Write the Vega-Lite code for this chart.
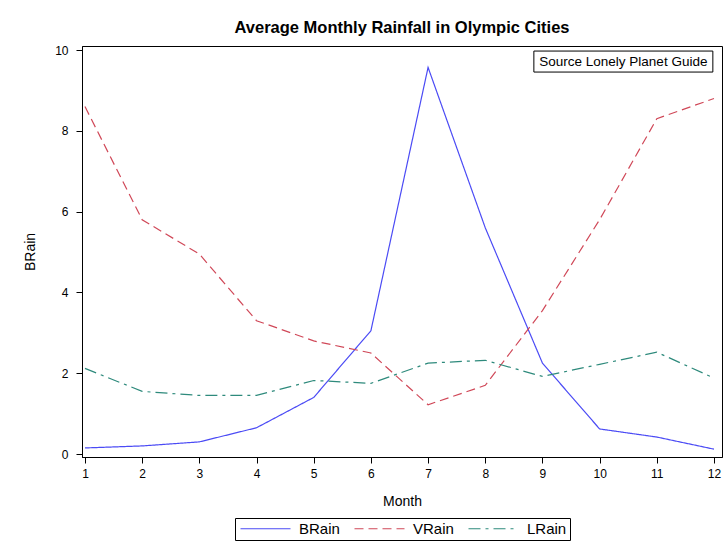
{
  "$schema": "https://vega.github.io/schema/vega-lite/v6.json",
  "width": 640,
  "height": 411,
  "autosize": {"type": "none"},
  "padding": {"left": 82, "top": 46, "right": 4, "bottom": 91},
  "background": "white",
  "title": {
    "text": "Average Monthly Rainfall in Olympic Cities",
    "font": "Liberation Sans",
    "fontSize": 16.5,
    "fontWeight": "bold",
    "color": "black",
    "anchor": "middle",
    "offset": 8
  },
  "config": {
    "view": {"stroke": "black", "strokeWidth": 1},
    "font": "Liberation Sans",
    "axis": {
      "grid": false,
      "domainColor": "black",
      "tickColor": "black",
      "tickSize": 6,
      "labelFont": "Liberation Sans",
      "labelFontSize": 12,
      "labelColor": "black",
      "titleFont": "Liberation Sans",
      "titleFontSize": 14,
      "titleFontWeight": "normal",
      "titleColor": "black"
    },
    "legend": {
      "labelFont": "Liberation Sans",
      "labelFontSize": 15,
      "labelColor": "black"
    }
  },
  "datasets": {
    "rain": [
      {"Month": 1, "series": "BRain", "value": 0.15},
      {"Month": 2, "series": "BRain", "value": 0.2},
      {"Month": 3, "series": "BRain", "value": 0.3},
      {"Month": 4, "series": "BRain", "value": 0.65},
      {"Month": 5, "series": "BRain", "value": 1.4},
      {"Month": 6, "series": "BRain", "value": 3.05},
      {"Month": 7, "series": "BRain", "value": 9.57},
      {"Month": 8, "series": "BRain", "value": 5.6},
      {"Month": 9, "series": "BRain", "value": 2.25},
      {"Month": 10, "series": "BRain", "value": 0.62},
      {"Month": 11, "series": "BRain", "value": 0.42},
      {"Month": 12, "series": "BRain", "value": 0.12},
      {"Month": 1, "series": "VRain", "value": 8.6},
      {"Month": 2, "series": "VRain", "value": 5.8},
      {"Month": 3, "series": "VRain", "value": 4.95},
      {"Month": 4, "series": "VRain", "value": 3.3},
      {"Month": 5, "series": "VRain", "value": 2.8},
      {"Month": 6, "series": "VRain", "value": 2.5},
      {"Month": 7, "series": "VRain", "value": 1.22},
      {"Month": 8, "series": "VRain", "value": 1.7},
      {"Month": 9, "series": "VRain", "value": 3.55},
      {"Month": 10, "series": "VRain", "value": 5.8},
      {"Month": 11, "series": "VRain", "value": 8.3},
      {"Month": 12, "series": "VRain", "value": 8.8},
      {"Month": 1, "series": "LRain", "value": 2.12},
      {"Month": 2, "series": "LRain", "value": 1.55},
      {"Month": 3, "series": "LRain", "value": 1.45},
      {"Month": 4, "series": "LRain", "value": 1.45},
      {"Month": 5, "series": "LRain", "value": 1.82},
      {"Month": 6, "series": "LRain", "value": 1.75},
      {"Month": 7, "series": "LRain", "value": 2.25},
      {"Month": 8, "series": "LRain", "value": 2.32},
      {"Month": 9, "series": "LRain", "value": 1.92},
      {"Month": 10, "series": "LRain", "value": 2.22},
      {"Month": 11, "series": "LRain", "value": 2.52},
      {"Month": 12, "series": "LRain", "value": 1.88}
    ],
    "note": [
      {"x1": 8.85, "x2": 11.98, "y1": 9.455, "y2": 9.975, "xm": 10.415, "ym": 9.715, "label": "Source Lonely Planet Guide"}
    ]
  },
  "layer": [
    {
      "data": {"name": "rain"},
      "mark": {"type": "line", "strokeWidth": 1.2},
      "encoding": {
        "x": {
          "field": "Month",
          "type": "quantitative",
          "scale": {"domain": [0.948, 12.14], "nice": false, "zero": false},
          "axis": {"values": [1,2,3,4,5,6,7,8,9,10,11,12], "format": "d", "title": "Month", "labelPadding": 5, "titlePadding": 15}
        },
        "y": {
          "field": "value",
          "type": "quantitative",
          "scale": {"domain": [-0.074, 10.1], "nice": false, "zero": false},
          "axis": {"values": [0,2,4,6,8,10], "format": "d", "title": "BRain", "labelPadding": 8, "titlePadding": 17}
        },
        "color": {
          "field": "series",
          "type": "nominal",
          "scale": {"domain": ["BRain", "VRain", "LRain"], "range": ["#4B4BF5", "#D04858", "#2E8A7C"]},
          "legend": {
            "title": null,
            "orient": "none",
            "legendX": 153,
            "legendY": 472,
            "direction": "horizontal",
            "strokeColor": "black",
            "padding": 3,
            "symbolType": "M-1,0H9",
            "symbolSize": 100,
            "symbolStrokeWidth": 1.2,
            "columnPadding": 12,
            "labelOffset": 46
          }
        },
        "strokeDash": {
          "field": "series",
          "type": "nominal",
          "scale": {"domain": ["BRain", "VRain", "LRain"], "range": [[1, 0], [9, 5], [12, 5, 3, 5]]},
          "legend": {
            "title": null,
            "orient": "none",
            "legendX": 153,
            "legendY": 472,
            "direction": "horizontal",
            "strokeColor": "black",
            "padding": 3,
            "symbolType": "M-1,0H9",
            "symbolSize": 100,
            "symbolStrokeWidth": 1.2,
            "columnPadding": 12,
            "labelOffset": 46
          }
        }
      }
    },
    {
      "data": {"name": "note"},
      "mark": {"type": "rect", "fill": "white", "stroke": "black", "strokeWidth": 1},
      "encoding": {
        "x": {"field": "x1", "type": "quantitative"},
        "x2": {"field": "x2"},
        "y": {"field": "y1", "type": "quantitative"},
        "y2": {"field": "y2"}
      }
    },
    {
      "data": {"name": "note"},
      "mark": {"type": "text", "font": "Liberation Sans", "fontSize": 13.5, "color": "black", "align": "center", "baseline": "middle"},
      "encoding": {
        "x": {"field": "xm", "type": "quantitative"},
        "y": {"field": "ym", "type": "quantitative"},
        "text": {"field": "label"}
      }
    }
  ]
}
